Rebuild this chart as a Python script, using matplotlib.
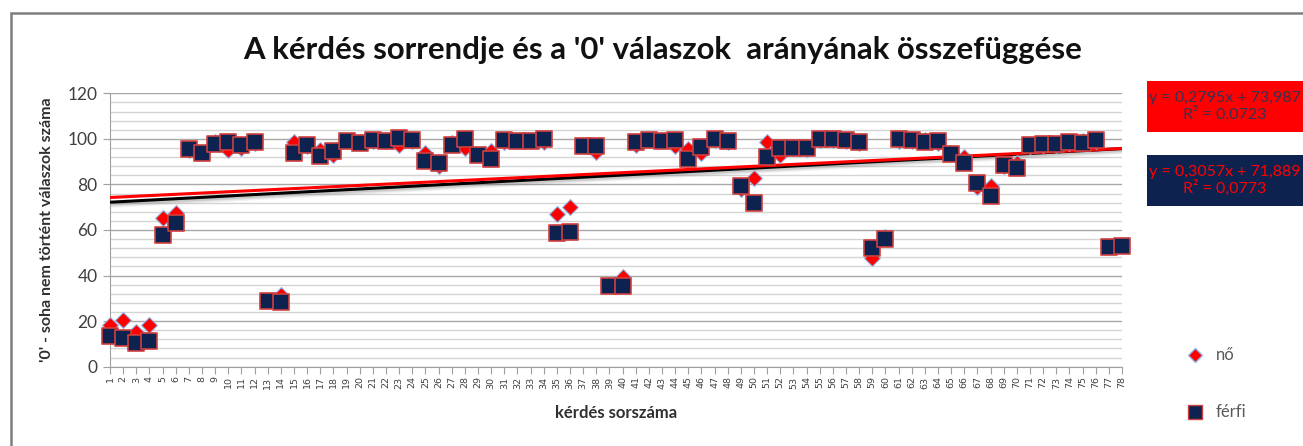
import matplotlib
matplotlib.use("Agg")
import matplotlib.pyplot as plt
import numpy as np
from matplotlib.patches import Rectangle

# ---- data ----
questions = list(range(1, 79))
no_values = [18.3, 20.5, 15.1, 18.3, 65.4, 67.6, 95, 94, 98.5, 95.1,
             96, 98, 29, 31.5, 98.7, 97, 95, 93, 99, 98.5,
             99, 99, 97.5, 99, 94, 88, 98, 95.9, 93, 94.5,
             98.5, 99, 99, 98.5, 66.9, 70.2, 97, 94.1, 36, 39.5,
             97.5, 99.5, 99, 97, 95.6, 93.7, 99.5, 98.5, 78, 83,
             98.5, 92.9, 96, 95.5, 99.5, 99.5, 99, 98, 47.6, 57,
             99, 99, 99.5, 98, 94, 92, 79, 79.3, 88, 89.5,
             97, 97.5, 97.5, 98, 99, 99, 53, 53.5]
ferfi_values = [13.5, 12.5, 10.3, 11.4, 57.8, 63.2, 95.4, 93.9, 97.8, 98.6,
                97.4, 98.7, 28.8, 28.6, 93.9, 97.4, 92.5, 94.7, 98.9, 98.2,
                99.4, 99.1, 100.2, 99.4, 90.4, 89.3, 97.4, 99.9, 92.9, 91.3,
                99.4, 99.1, 99.1, 99.9, 58.5, 59.3, 96.9, 96.9, 35.4, 35.4,
                98.7, 99.5, 99.1, 99.5, 91, 96.6, 99.9, 99.1, 79.3, 72,
                92.2, 96.1, 96.1, 96.1, 99.9, 99.9, 99.5, 98.6, 52, 55.9,
                99.9, 99.4, 98.5, 99.1, 93.4, 89.3, 80.8, 74.9, 88.5, 87.1,
                97.4, 97.8, 97.7, 98.5, 98.1, 99.5, 52.4, 53]
no_trend = (0.2795, 73.987)
ferfi_trend = (0.3057, 71.889)
no_eq = "y = 0,2795x + 73,987\nR² = 0,0723"
ferfi_eq = "y = 0,3057x + 71,889\nR² = 0,0773"
title = "A kérdés sorrendje és a '0' válaszok  arányának összefüggése"
xlabel = "kérdés sorszáma"
ylabel = "'0' - soha nem történt válaszok száma"
series_names = ["nő", "férfi"]

RED = "#ff0000"
NAVY = "#0e2250"
FONT = "Lato"

fig = plt.figure(figsize=(13.03, 4.46), dpi=100)
W, H = 1303, 446

# chart frame
frame = Rectangle((11 / W, -0.1), 1.1, 1 - 13 / H + 0.1, transform=fig.transFigure,
                  fill=False, edgecolor="#7f7f7f", lw=1.8, zorder=0)
fig.patches.append(frame)

ax = fig.add_axes([110 / W, 1 - 366.7 / H, (1122 - 110) / W, (366.7 - 93.3) / H])
x = np.array(questions)

ax.set_xlim(1, 78)
ax.set_ylim(0, 120)
ax.set_yticks(np.arange(0, 121, 20))
ax.set_yticks(np.arange(0, 121, 4), minor=True)
ax.yaxis.grid(True, which="major", color="#a8a8a8", lw=1.0, zorder=0)
ax.yaxis.grid(True, which="minor", color="#d4d4d4", lw=1.0, zorder=0)
ax.set_xticks(x)
ax.set_xticklabels([str(q) for q in questions], rotation=90, fontsize=6.8, color="#404040")
ax.tick_params(axis="x", length=5, color="#a0a0a0", pad=2)
ax.tick_params(axis="y", which="major", length=5, color="#a0a0a0", labelsize=12.5, labelcolor="#404040", pad=4)
ax.tick_params(axis="y", which="minor", length=0)
for lab in ax.get_yticklabels():
    lab.set_family(FONT)
for s in ["top", "right"]:
    ax.spines[s].set_visible(False)
ax.spines["left"].set_color("#a0a0a0")
ax.spines["bottom"].set_color("#a0a0a0")

# trendlines
xt = np.array([1, 78])
yf = ferfi_trend[0] * xt + ferfi_trend[1]
for off, a in [(-1.6, 0.10), (-1.1, 0.15), (-0.6, 0.25)]:
    ax.plot(xt, yf + off, color="#808080", lw=3, alpha=a, zorder=2, solid_capstyle="butt")
ax.plot(xt, yf, color="black", lw=2.2, zorder=3, solid_capstyle="butt")
yn = no_trend[0] * xt + no_trend[1]
ax.plot(xt, yn, color=RED, lw=2.2, zorder=3, solid_capstyle="butt")

ax.scatter(x, no_values, marker="D", s=65, color=RED, edgecolor="#8fb4e3", linewidth=0.8,
           zorder=4, clip_on=False, label=series_names[0])
ax.scatter(x, ferfi_values, marker="s", s=130, color=NAVY, edgecolor="#d04040", linewidth=1.2,
           zorder=5, clip_on=False, label=series_names[1])

ax.set_xlabel(xlabel, fontsize=12, fontweight="bold", color="#303030", labelpad=12, family=FONT)
ax.set_ylabel(ylabel, fontsize=11.5, fontweight="bold", color="#303030", labelpad=10, family=FONT)

fig.text(663 / W, 1 - 50 / H, title, ha="center", va="center", fontsize=22.4,
         fontweight="bold", color="#111111", family=FONT)

# equation boxes
fig.patches.append(Rectangle((1147 / W, 1 - 132 / H), 0.2, 51 / H, transform=fig.transFigure,
                             facecolor=RED, edgecolor="none", zorder=1))
fig.patches.append(Rectangle((1147 / W, 1 - 206 / H), 0.2, 51 / H, transform=fig.transFigure,
                             facecolor=NAVY, edgecolor="none", zorder=1))
fig.text(1225 / W, 1 - 106.5 / H, no_eq, ha="center", va="center", fontsize=11.5,
         color="#3a3050", linespacing=1.1, family=FONT, zorder=2)
fig.text(1225 / W, 1 - 180.5 / H, ferfi_eq, ha="center", va="center", fontsize=11.5,
         color=RED, linespacing=1.1, family=FONT, zorder=2)

# legend
fig.lines.append(plt.Line2D([1195 / W], [1 - 355 / H], marker="D", markersize=7, color=RED,
                            markeredgecolor="#8fb4e3", transform=fig.transFigure))
fig.lines.append(plt.Line2D([1195 / W], [1 - 412 / H], marker="s", markersize=10, color=NAVY,
                            markeredgecolor="#d04040", transform=fig.transFigure))
fig.text(1216 / W, 1 - 355 / H, series_names[0], ha="left", va="center", fontsize=12,
         color="#595959", family=FONT)
fig.text(1216 / W, 1 - 412 / H, series_names[1], ha="left", va="center", fontsize=12,
         color="#595959", family=FONT)

fig.savefig("out.png", dpi=100)
